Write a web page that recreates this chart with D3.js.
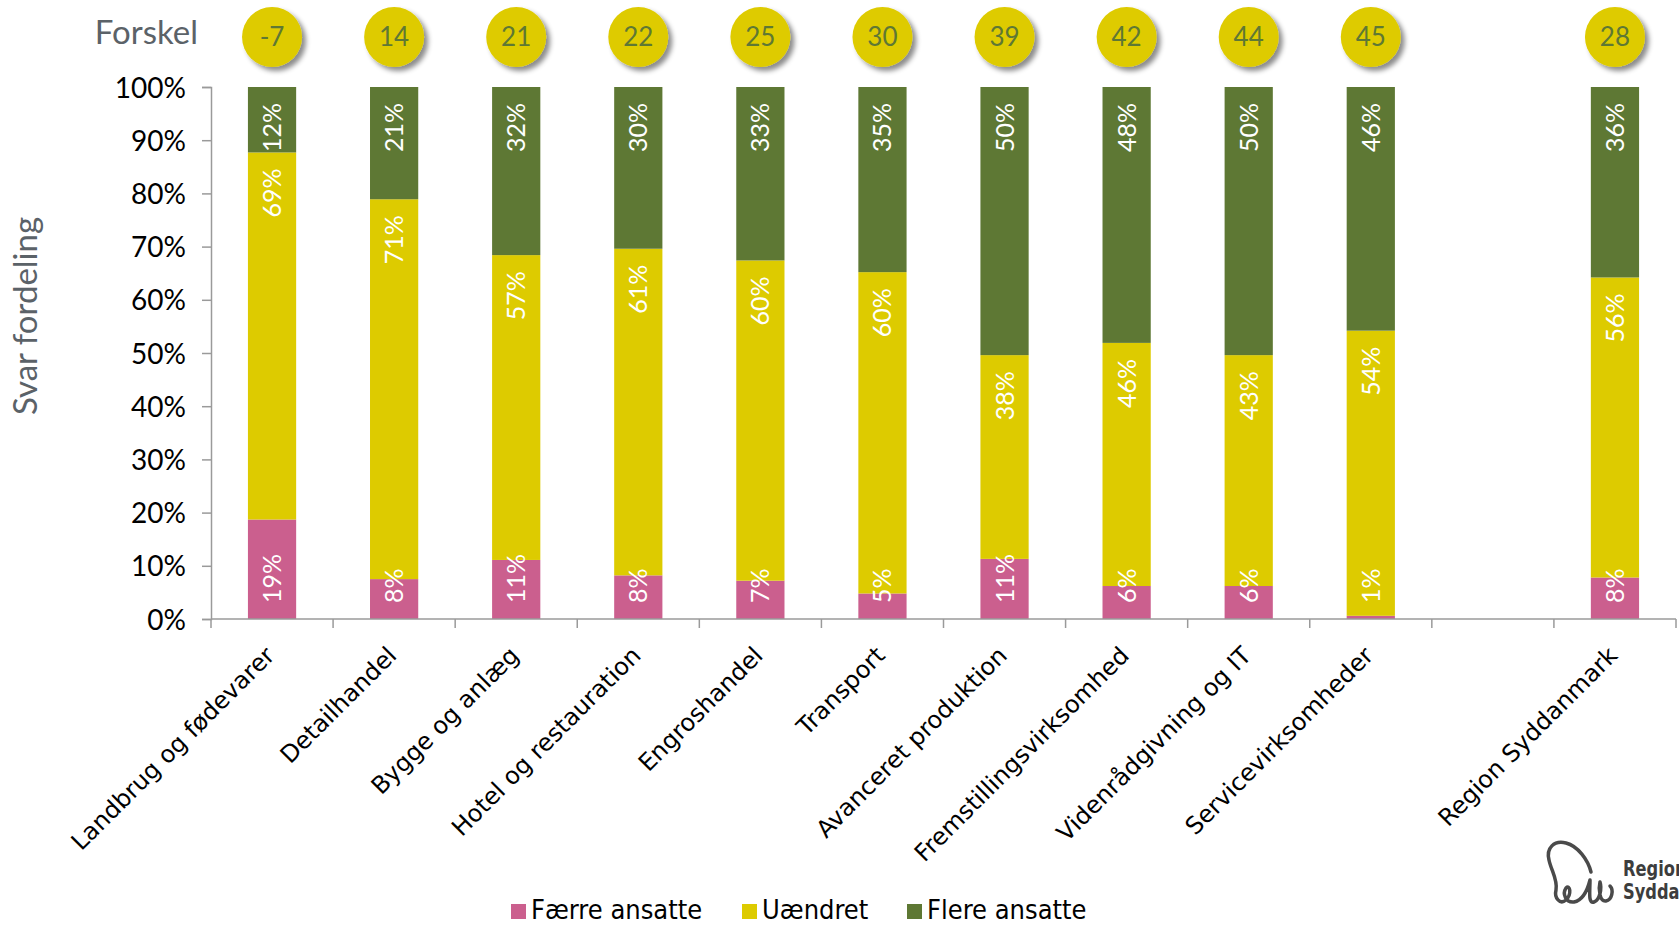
<!DOCTYPE html>
<html><head><meta charset="utf-8">
<script src="https://cdn.jsdelivr.net/npm/d3@7"></script>
<style>
html,body{margin:0;padding:0;background:#fff;}
svg{display:block;}
</style></head>
<body>
<svg id="chart" width="1679" height="926"></svg>
<script>
const categories = ["Landbrug og fødevarer","Detailhandel","Bygge og anlæg","Hotel og restauration","Engroshandel","Transport","Avanceret produktion","Fremstillingsvirksomhed","Videnrådgivning og IT","Servicevirksomheder","","Region Syddanmark"];
const faerre  = [18.7, 7.5, 11.1, 8.2, 7.2, 4.8, 11.3, 6.2, 6.2, 0.6, null, 7.8];
const uaendret= [69.0, 71.4, 57.3, 61.4, 60.2, 60.4, 38.3, 45.7, 43.4, 53.6, null, 56.4];
const flere   = [12.3, 21.1, 31.6, 30.4, 32.6, 34.8, 50.4, 48.1, 50.4, 45.8, null, 35.8];
const forskel = [-7, 14, 21, 22, 25, 30, 39, 42, 44, 45, null, 28];
const yTicks = [0,10,20,30,40,50,60,70,80,90,100];
const seriesNames = ["Færre ansatte","Uændret","Flere ansatte"];
const colors = ["#CB5F8E","#DDCB00","#5E7834"];

const svg = d3.select("#chart");
const mLeft = 211, mRight = 1676, mTop = 87, mBottom = 619;

const x = d3.scaleBand().domain(categories).range([mLeft, mRight]).padding(0);
const y = d3.scaleLinear().domain([0,100]).range([mBottom, mTop]);
const bw = x.bandwidth()*0.395;

const defs = svg.append("defs");
const f = defs.append("filter").attr("id","sh").attr("x","-30%").attr("y","-30%").attr("width","180%").attr("height","180%");
f.append("feDropShadow").attr("dx",4).attr("dy",4).attr("stdDeviation",2.5).attr("flood-color","#000").attr("flood-opacity",0.45);

// y axis
const yAxis = d3.axisLeft(y).tickValues(yTicks).tickSize(9).tickFormat(d=>d+"%");
const gy = svg.append("g").attr("transform",`translate(${mLeft},0)`).call(yAxis);
gy.select(".domain").attr("stroke","#9a9a9a").attr("stroke-width",1.5);
gy.selectAll(".tick line").attr("stroke","#9a9a9a").attr("stroke-width",1.5);
gy.selectAll(".tick text").attr("font-family","Lato, 'Open Sans', sans-serif").attr("font-size",28).attr("fill","#000").attr("x",-25).attr("dy","0.36em");

// stacked bars
const stacks = [faerre, uaendret, flere];
categories.forEach((c,i)=>{
  if (faerre[i]==null) return;
  let base = 0;
  stacks.forEach((s,k)=>{
    const v = s[i];
    svg.append("rect").attr("x", x(c)+x.bandwidth()/2-bw/2).attr("width", bw)
      .attr("y", y(base+v)).attr("height", y(base)-y(base+v)).attr("fill", colors[k]);
    base += v;
  });
});
// labels
categories.forEach((c,i)=>{
  if (faerre[i]==null) return;
  const cx = x(c)+x.bandwidth()/2;
  let base = 0;
  stacks.forEach((s,k)=>{
    const v = s[i];
    let ty, anchor;
    if (k===0){ ty = y(0)-16; anchor="start"; }
    else { ty = y(base+v)+16; anchor="end"; }
    svg.append("text").attr("transform",`translate(${cx},${ty}) rotate(-90)`)
      .attr("text-anchor",anchor).attr("dy","0.36em")
      .attr("font-family","Lato, 'Open Sans', sans-serif").attr("font-size",25)
      .attr("fill","#fff").text(Math.round(v)+"%");
    base += v;
  });
});

// x axis
const gx = svg.append("g").attr("transform",`translate(0,${mBottom})`);
gx.append("line").attr("x1",mLeft).attr("x2",mRight).attr("stroke","#9a9a9a").attr("stroke-width",1.5);
const bounds = categories.map(c=>x(c)).concat([mRight]);
gx.selectAll("line.tk").data(bounds).enter().append("line").attr("class","tk")
  .attr("x1",d=>d).attr("x2",d=>d).attr("y1",0).attr("y2",9).attr("stroke","#9a9a9a").attr("stroke-width",1.5);
gx.selectAll("text").data(categories).enter().append("text")
  .attr("transform",d=>`translate(${x(d)+x.bandwidth()/2-2},${32}) rotate(-45)`)
  .attr("text-anchor","end").attr("dy","0.35em")
  .attr("font-family","'DejaVu Sans', sans-serif").attr("font-size",24).attr("fill","#000")
  .text(d=>d);

// Forskel row
svg.append("text").attr("x",198).attr("y",44).attr("text-anchor","end")
  .attr("font-family","Lato, 'Open Sans', sans-serif").attr("font-size",33).attr("fill","#5b6268").text("Forskel");
categories.forEach((c,i)=>{
  if (forskel[i]==null) return;
  const cx = x(c)+x.bandwidth()/2;
  svg.append("circle").attr("cx",cx).attr("cy",37).attr("r",30).attr("fill","#DECB00").attr("filter","url(#sh)");
  svg.append("text").attr("x",cx).attr("y",37).attr("dy","0.36em").attr("text-anchor","middle")
    .attr("font-family","Lato, 'Open Sans', sans-serif").attr("font-size",26).attr("fill","#5E7834").text(forskel[i]);
});

// y title
svg.append("text").attr("transform","translate(37,316) rotate(-90)").attr("text-anchor","middle")
  .attr("font-family","Lato, 'Open Sans', sans-serif").attr("font-size",33).attr("fill","#5b6268").text("Svar fordeling");

// legend
const lx = [511, 742, 907];
seriesNames.forEach((n,k)=>{
  svg.append("rect").attr("x",lx[k]).attr("y",904).attr("width",15).attr("height",15).attr("fill",colors[k]);
  svg.append("text").attr("x",lx[k]+20).attr("y",919)
    .attr("font-family","'DejaVu Sans Condensed', 'DejaVu Sans', sans-serif").attr("font-stretch","condensed")
    .attr("font-size",27).attr("fill","#000").text(n);
});

// logo
const lg = svg.append("g").attr("fill","none").attr("stroke","#4a4a4a").attr("stroke-width",3.5).attr("stroke-linecap","round").attr("stroke-linejoin","round");
lg.append("path").attr("d","M1591,872 C1588,860 1578,846 1566,843 C1554,840 1546,848 1549,860 C1551,870 1558,880 1556,890 C1554,898 1560,905 1566,900 C1572,894 1570,884 1566,888 C1562,894 1566,903 1574,902 C1584,900 1588,888 1590,880 C1590,892 1588,904 1594,902 C1600,900 1602,888 1600,882 C1598,890 1600,902 1606,901 C1612,900 1614,890 1610,886");
svg.append("text").attr("transform","translate(1623,876) scale(0.86,1)").attr("font-family","'DejaVu Sans Condensed','DejaVu Sans',sans-serif")
  .attr("font-weight","bold").attr("font-size",21).attr("fill","#3d3d3d").text("Region");
svg.append("text").attr("transform","translate(1623,899) scale(0.86,1)").attr("font-family","'DejaVu Sans Condensed','DejaVu Sans',sans-serif")
  .attr("font-weight","bold").attr("font-size",21).attr("fill","#3d3d3d").text("Syddanmark");
</script>
</body></html>
